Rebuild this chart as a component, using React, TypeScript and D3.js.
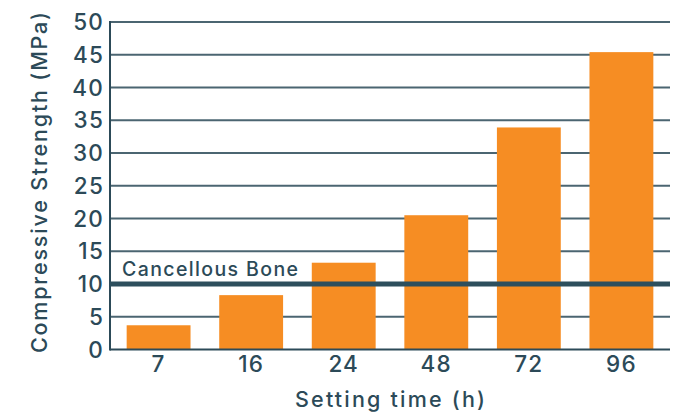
import { useEffect, useRef } from "react";
import * as d3 from "d3";

const categories = ["7", "16", "24", "48", "72", "96"];
const strength = [3.7, 8.3, 13.25, 20.5, 33.9, 45.4];
const yTicks = [0, 5, 10, 15, 20, 25, 30, 35, 40, 45, 50];
const boneLevel = 10;
const boneLabel = "Cancellous Bone";

const W = 687;
const H = 415;
const ink = "#2c4a58";
const font = "Inter, 'Open Sans', sans-serif";

export default function App() {
  const ref = useRef<SVGSVGElement>(null);

  useEffect(() => {
    if (!ref.current) return;
    const svg = d3.select(ref.current);
    svg.selectAll("*").remove();

    const left = 110, right = 670, top = 22, bottom = 349.5;

    const x = d3.scaleBand().domain(categories).range([left, right]).paddingInner(0.31).paddingOuter(0.18);
    const y = d3.scaleLinear().domain([0, 50]).range([bottom, top]);

    // gridlines
    svg.append("g").selectAll("line").data(yTicks.filter((t) => t > 0)).enter().append("line")
      .attr("x1", left).attr("x2", right)
      .attr("y1", (d) => y(d)).attr("y2", (d) => y(d))
      .attr("stroke", ink).attr("stroke-width", 2).attr("stroke-opacity", 0.85);

    // bars
    svg.append("g").selectAll("rect").data(strength).enter().append("rect")
      .attr("x", (_, i) => x(categories[i])!)
      .attr("width", x.bandwidth())
      .attr("y", (d) => y(d))
      .attr("height", (d) => bottom - y(d))
      .attr("fill", "#f68d23");

    // axes
    svg.append("line").attr("x1", left).attr("x2", right).attr("y1", bottom).attr("y2", bottom)
      .attr("stroke", ink).attr("stroke-width", 2);
    svg.append("line").attr("x1", left).attr("x2", left).attr("y1", top - 1).attr("y2", bottom + 1)
      .attr("stroke", ink).attr("stroke-width", 2);

    // reference line
    svg.append("line").attr("x1", left).attr("x2", right)
      .attr("y1", y(boneLevel)).attr("y2", y(boneLevel))
      .attr("stroke", "#2d4f5d").attr("stroke-width", 5);
    svg.append("text").attr("x", 122).attr("y", y(boneLevel) - 8)
      .attr("font-family", font).attr("font-size", 19.5).attr("font-weight", 500).attr("fill", ink)
      .attr("textLength", 176).attr("lengthAdjust", "spacing").text(boneLabel);

    // y tick labels
    svg.append("g").selectAll("text").data(yTicks).enter().append("text")
      .attr("x", 104).attr("y", (d) => y(d)).attr("dy", "0.36em")
      .attr("text-anchor", "end").attr("font-family", font).attr("font-size", 22.5).attr("font-weight", 500)
      .attr("fill", ink).attr("letter-spacing", 1.2).text((d) => d);

    // x tick labels
    svg.append("g").selectAll("text").data(categories).enter().append("text")
      .attr("x", (d) => x(d)! + x.bandwidth() / 2).attr("y", 372)
      .attr("text-anchor", "middle").attr("font-family", font).attr("font-size", 22.5).attr("font-weight", 500)
      .attr("fill", ink).attr("letter-spacing", 1.2).text((d) => d);

    // axis titles
    svg.append("text").attr("x", 295).attr("y", 407)
      .attr("font-family", font).attr("font-size", 21.5).attr("font-weight", 500).attr("fill", ink)
      .attr("textLength", 190).attr("lengthAdjust", "spacing").text("Setting time (h)");
    svg.append("text").attr("transform", "translate(47,353) rotate(-90)")
      .attr("font-family", font).attr("font-size", 21.5).attr("font-weight", 500)
      .attr("fill", ink).attr("textLength", 341).attr("lengthAdjust", "spacing")
      .text("Compressive Strength (MPa)");
  }, []);

  return (
    <div style={{ position: "fixed", left: 0, top: 0, width: W, height: H, overflow: "hidden" }}>
      <svg ref={ref} width={W} height={H} style={{ display: "block", background: "#fff" }} />
    </div>
  );
}
